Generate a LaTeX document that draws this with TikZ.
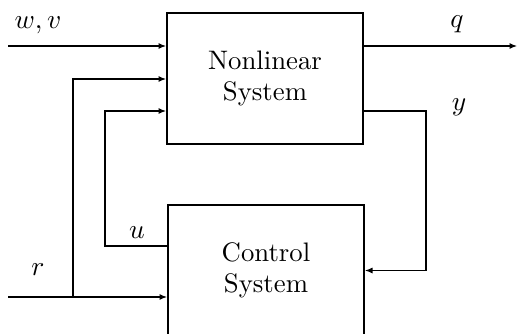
\documentclass[tikz,border=0pt]{standalone}
\usepackage{amsmath}
\usetikzlibrary{arrows.meta}
\usetikzlibrary{calc,positioning}

\begin{document}
\begin{tikzpicture}[x=0.4pt, y=-0.4pt,
    font=\fontsize{10.7}{12.5}\selectfont,
    block/.style={draw, line width=0.8pt, rectangle, align=center,
        minimum width=78.4pt, minimum height=52.4pt},
    sig/.style={line width=0.45pt, -{Latex[length=3pt, width=2.4pt]}}]

    \clip (0,0) rectangle (519,333);

    \node[block] (nls) at (265,78.5) {Nonlinear\\System};
    \node[block] (cs) at (266,270.5) {Control\\System};

    % inputs and outputs
    \coordinate (wv) at (8,46);
    \coordinate (qout) at (517,46);
    \draw[sig] (wv) -- (wv -| nls.west);
    \draw[sig] (qout -| nls.east) -- (qout);

    % measured output back to the controller
    \coordinate (ybend) at (426,111);
    \draw[sig] (nls.east |- ybend) -- (ybend) |- (cs.east);

    % control signal
    \coordinate (ubend) at (105,246);
    \coordinate (uturn) at (105,111);
    \draw[sig] (cs.west |- ubend) -- (ubend) -- (uturn) -- (nls.west |- uturn);

    % reference, fed to both blocks
    \coordinate (rin) at (8,297);
    \coordinate (rtap) at (73,297);
    \coordinate (rturn) at (73,79);
    \draw[sig] (rin) -- (cs.west |- rin);
    \draw[sig] (rtap) -- (rturn) -- (nls.west |- rturn);

    \node (wvlab) at (38,25) {$w,v$};
    \node (qlab) at (457,24) {$q$};
    \node (ylab) at (459,107) {$y$};
    \node (ulab) at (137,233) {$u$};
    \node (rlab) at (38,270) {$r$};

\end{tikzpicture}
\end{document}
